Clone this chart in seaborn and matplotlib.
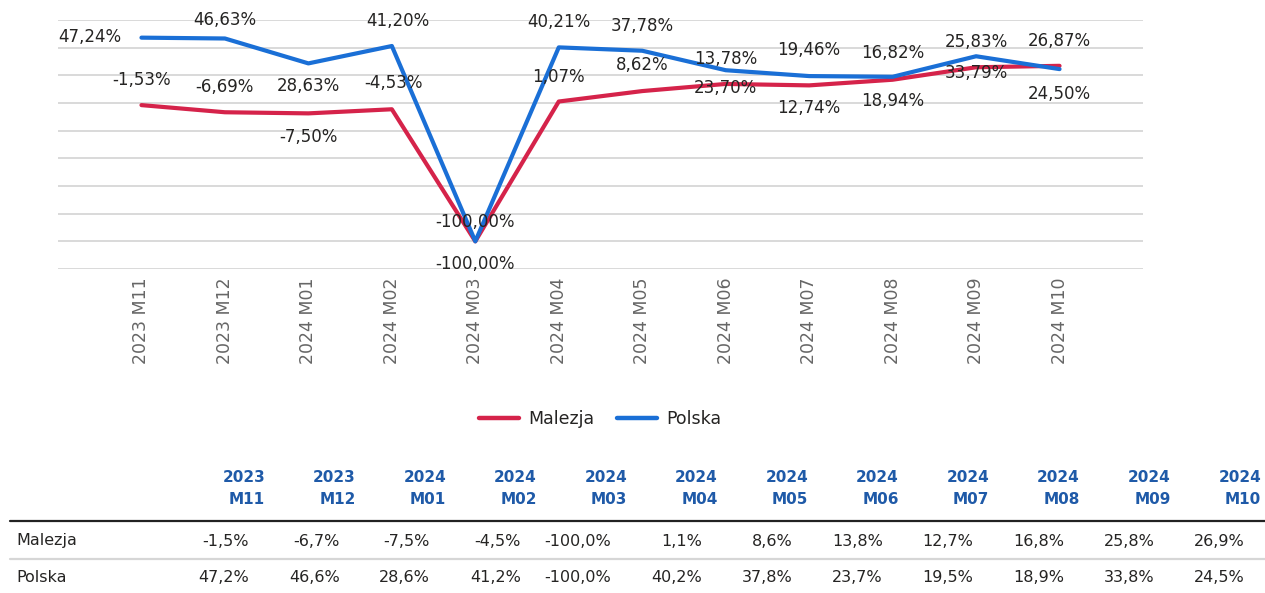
import matplotlib
matplotlib.use("Agg")
import matplotlib.pyplot as plt
from matplotlib.lines import Line2D
import seaborn as sns
import pandas as pd

# ---------------- data ----------------
months = ["2023 M11", "2023 M12", "2024 M01", "2024 M02", "2024 M03", "2024 M04",
          "2024 M05", "2024 M06", "2024 M07", "2024 M08", "2024 M09", "2024 M10"]
malezja = [-1.53, -6.69, -7.50, -4.53, -100.00, 1.07, 8.62, 13.78, 12.74, 16.82, 25.83, 26.87]
polska = [47.24, 46.63, 28.63, 41.20, -100.00, 40.21, 37.78, 23.70, 19.46, 18.94, 33.79, 24.50]
series_names = ["Malezja", "Polska"]

# label offsets (pixels) as placed in the reference
mal_off = [(0, 25), (0, 25), (0, -24), (2, 26), (0, -23), (0, 25), (0, 26),
           (0, 25), (0, -23), (0, 27), (0, 25), (0, 25)]
pol_off = [(-52, 1), (0, 18), (0, -23), (6, 25), (0, 19), (0, 25), (0, 25),
           (0, -18), (0, 26), (0, -24), (0, -17), (0, -25)]

RED = "#D5234A"
BLUE = "#1A6FD6"

def pl(v, d):
    s = f"{v:.{d}f}".replace(".", ",")
    return s + "%"

df = pd.DataFrame({
    "Miesiąc": months * 2,
    "Wartość": malezja + polska,
    "Kraj": [series_names[0]] * len(months) + [series_names[1]] * len(months),
})

sns.set_theme(style="white")
plt.rcParams["font.family"] = ["DejaVu Sans"]

W, H = 1265, 593
fig = plt.figure(figsize=(W / 100, H / 100), dpi=100)
ax = fig.add_axes([58 / W, 1 - 269 / H, (1143 - 58) / W, (269 - 20) / H])

sns.lineplot(data=df, x="Miesiąc", y="Wartość", hue="Kraj",
             palette={"Malezja": RED, "Polska": BLUE}, linewidth=3.0,
             sort=False, legend=False, ax=ax, zorder=3)

ax.set_xlim(-1, len(months))
ax.set_ylim(-120, 60)
ax.set_yticks(range(-120, 61, 20))
ax.yaxis.grid(True, color="#d9d9d9", linewidth=1.4)
ax.xaxis.grid(False)
ax.tick_params(axis="y", left=False, labelleft=False)
ax.set_xticks(range(len(months)))
ax.set_xticklabels(months, rotation=90, color="#666666", fontsize=12.5)
ax.tick_params(axis="x", bottom=False, pad=0)
ax.set_xlabel("")
ax.set_ylabel("")
for s in ax.spines.values():
    s.set_visible(False)

for i, (v, off) in enumerate(zip(malezja, mal_off)):
    ax.annotate(pl(v, 2), (i, v), xytext=off, textcoords="offset pixels",
                ha="center", va="center", fontsize=12, color="#252423", zorder=4)
for i, (v, off) in enumerate(zip(polska, pol_off)):
    ax.annotate(pl(v, 2), (i, v), xytext=off, textcoords="offset pixels",
                ha="center", va="center", fontsize=12, color="#252423", zorder=4)

# legend
handles = [Line2D([0], [0], color=RED, lw=3.2), Line2D([0], [0], color=BLUE, lw=3.2)]
fig.legend(handles, series_names, loc="center", bbox_to_anchor=(600 / W, 1 - 419 / H),
           ncol=2, frameon=False, fontsize=12.5, handlelength=2.3, handletextpad=0.55,
           columnspacing=1.3, labelcolor="#252423")

# table
def fx(x):
    return x / W

def fy(y):
    return 1 - y / H

col_right = [265 + i * 90.55 for i in range(len(months))]
for xr, m in zip(col_right, months):
    yr, mo = m.split(" ")
    fig.text(fx(xr), fy(477), yr, ha="right", va="center", fontsize=11,
             fontweight="bold", color="#1F5AA8")
    fig.text(fx(xr), fy(500), mo, ha="right", va="center", fontsize=11,
             fontweight="bold", color="#1F5AA8")

fig.add_artist(Line2D([fx(10), fx(1265)], [fy(521), fy(521)], color="#222222", lw=1.6,
                      transform=fig.transFigure))
fig.add_artist(Line2D([fx(10), fx(1265)], [fy(558.5), fy(558.5)], color="#d6d6d6", lw=1.6,
                      transform=fig.transFigure))

for row_y, name, vals in [(541, series_names[0], malezja), (577, series_names[1], polska)]:
    fig.text(fx(16), fy(row_y), name, ha="left", va="center", fontsize=11.5, color="#252423")
    for xr, v in zip(col_right, vals):
        fig.text(fx(xr - 16), fy(row_y), pl(v, 1), ha="right", va="center",
                 fontsize=11.5, color="#252423")

fig.savefig("out.png", dpi=100)
